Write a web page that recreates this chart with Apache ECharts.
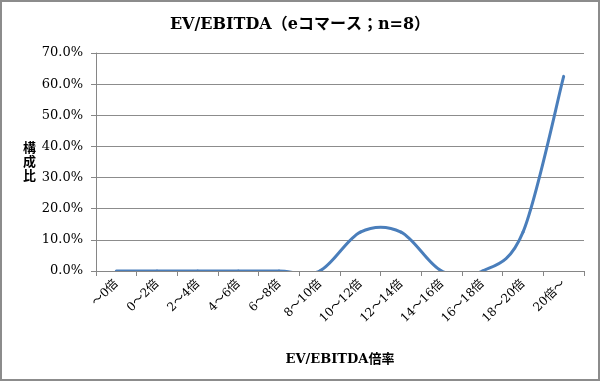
<!DOCTYPE html>
<html><head><meta charset="utf-8">
<script src="https://cdn.jsdelivr.net/npm/echarts@6/dist/echarts.min.js"></script>
<style>
html,body{margin:0;padding:0;background:#fff;}
#c{width:596px;height:377px;border:2px solid #8c8c8c;}
</style></head>
<body><div id="c"></div>
<script>
const categories = ['～0倍','0～2倍','2～4倍','4～6倍','6～8倍','8～10倍','10～12倍','12～14倍','14～16倍','16～18倍','18～20倍','20倍～'];
const shares = [0, 0, 0, 0, 0, 0, 12.5, 12.5, 0, 0, 12.5, 62.5];
const yTicks = [0, 10, 20, 30, 40, 50, 60, 70];
const titleText = 'EV/EBITDA（eコマース；n=8）';
const yName = '構成比';
const xName = 'EV/EBITDA倍率';

const FONT = '"DejaVu Serif","Liberation Serif","Noto Sans CJK JP",serif';
const chart = echarts.init(document.getElementById('c'));

// Excel-style smoothed line: cubic Bezier segments with Catmull-Rom control points (tension 1/6),
// positioned through the chart's own axes via api.coord.
function renderSeg(params, api) {
  const i = params.dataIndex;
  const n = shares.length;
  if (i >= n - 1) return null;
  const P = k => api.coord([Math.max(0, Math.min(n - 1, k)), shares[Math.max(0, Math.min(n - 1, k))]]);
  const p0 = P(i - 1), p1 = P(i), p2 = P(i + 1), p3 = P(i + 2);
  return {
    type: 'bezierCurve',
    shape: {
      x1: p1[0], y1: p1[1], x2: p2[0], y2: p2[1],
      cpx1: p1[0] + (p2[0] - p0[0]) / 6, cpy1: p1[1] + (p2[1] - p0[1]) / 6,
      cpx2: p2[0] - (p3[0] - p1[0]) / 6, cpy2: p2[1] - (p3[1] - p1[1]) / 6
    },
    style: {stroke: '#4a7ebb', lineWidth: 3, fill: null, lineCap: 'round'}
  };
}

chart.setOption({
  animation: false,
  title: {text: titleText, left: 'center', top: 10,
    textStyle: {fontFamily: FONT, fontSize: 16, fontWeight: 'bold', color: '#000'}},
  grid: {left: 94, right: 14, top: 51, bottom: 108, containLabel: false},
  xAxis: {
    type: 'category', data: categories, boundaryGap: true,
    name: xName, nameLocation: 'middle', nameGap: 82,
    nameTextStyle: {fontFamily: FONT, fontSize: 13, fontWeight: 'bold', color: '#000'},
    axisLine: {lineStyle: {color: '#868686'}},
    axisTick: {show: true, alignWithLabel: false, length: 5, lineStyle: {color: '#868686'}},
    axisLabel: {rotate: 45, interval: 0, margin: 11, fontFamily: FONT, fontSize: 12, color: '#000'}
  },
  yAxis: {
    type: 'value', min: yTicks[0], max: yTicks[yTicks.length-1], interval: 10,
    axisLine: {show: true, lineStyle: {color: '#868686'}},
    axisTick: {show: true, length: 5, lineStyle: {color: '#868686'}},
    splitLine: {lineStyle: {color: '#8c8c8c', width: 1}},
    axisLabel: {margin: 13, fontFamily: FONT, fontSize: 13, color: '#000',
      formatter: v => v.toFixed(1) + '%'}
  },
  graphic: [{type: 'text', left: 21, top: 140,
    style: {text: yName.split('').join('\n'), font: 'bold 13px ' + FONT, fill: '#000', lineHeight: 14}}],
  series: [{type: 'custom', data: shares.map((v, i) => [i, v]), renderItem: renderSeg, clip: true}]
});
</script></body></html>
